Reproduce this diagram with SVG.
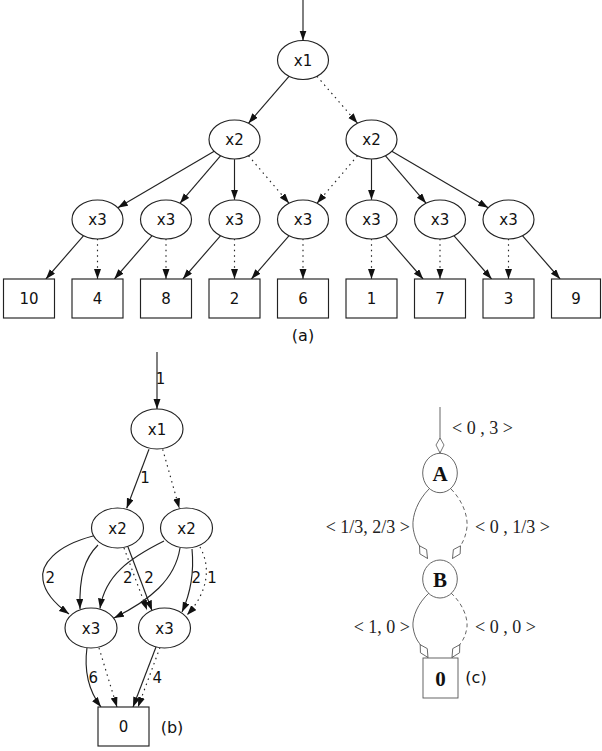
<svg xmlns="http://www.w3.org/2000/svg" width="602" height="751" viewBox="0 0 602 751">
<defs>
<style>
.n{fill:#fff;stroke:#222;stroke-width:1.15}
.e{fill:none;stroke:#222;stroke-width:1.15}
.d{stroke-dasharray:1.5,4}
.ce{fill:none;stroke:#555;stroke-width:0.9}
.cd{stroke-dasharray:4,3}
.cn{fill:#fff;stroke:#555;stroke-width:0.9}
.t{font-family:"DejaVu Sans",sans-serif;font-size:15px;text-anchor:middle;fill:#111}
.s{font-family:"Liberation Serif",serif;font-size:18px;fill:#222}
.b{font-family:"Liberation Serif",serif;font-weight:bold;font-size:21px;text-anchor:middle;fill:#111}
</style>
<marker id="ah" markerUnits="userSpaceOnUse" markerWidth="11" markerHeight="8" refX="10" refY="3.5" orient="auto"><path d="M0,0 L10,3.5 L0,7 z" fill="#111"/></marker>
<marker id="dm" markerUnits="userSpaceOnUse" markerWidth="18" markerHeight="10" refX="16" refY="5" orient="auto"><path d="M1,5 L8,1 L16,5 L8,9 z" fill="#fff" stroke="#555" stroke-width="0.8"/></marker>
</defs>
<rect width="602" height="751" fill="#fff"/>

<g id="connectors">
<g class="e" marker-end="url(#ah)">
<path d="M303,0 L303,40.5"/>
<path d="M289,76.3 L248.5,123.2"/>
<path class="d" d="M317,76.3 L357.5,123.2"/>
<path d="M214.2,151.3 L117.8,207.7"/>
<path d="M220.5,155.8 L180,203.2"/>
<path d="M234.5,159.2 L234.5,199.8"/>
<path class="d" d="M248.5,155.8 L289,203.2"/>
<path class="d" d="M357.5,155.8 L317,203.2"/>
<path d="M371.5,159.2 L371.5,199.8"/>
<path d="M385.5,155.8 L426,203.2"/>
<path d="M391.8,151.3 L488.2,207.7"/>
<path d="M83.4,235.8 L45.9,279"/>
<path class="d" d="M97.5,238.8 L97.5,279"/>
<path d="M151.9,235.8 L114.4,279"/>
<path class="d" d="M166,238.8 L166,279"/>
<path d="M220.4,235.8 L182.9,279"/>
<path class="d" d="M234.5,238.8 L234.5,279"/>
<path d="M288.9,235.8 L251.4,279"/>
<path class="d" d="M303,238.8 L303,279"/>
<path class="d" d="M371.5,238.8 L371.5,279"/>
<path d="M385.6,235.8 L423.1,279"/>
<path class="d" d="M440,238.8 L440,279"/>
<path d="M454.1,235.8 L491.6,279"/>
<path class="d" d="M508.5,238.8 L508.5,279"/>
<path d="M522.6,235.8 L560.1,279"/>

<path d="M157,352 L157,409"/>
<path d="M149,449.3 L126.7,508.3"/>
<path class="d" d="M162.7,449.3 L179.3,508.3"/>
<path d="M93,536 C55,546 40,565 43,580 C45,595 58,606 69,614"/>
<path d="M98,545 C85,558 79,575 80,609"/>
<path d="M128,547 L152,610.5"/>
<path class="d" d="M124,548 L147,610"/>
<path d="M164,541 C130,558 105,575 100,608.5"/>
<path d="M180,548 C175,580 150,600 114,618"/>
<path d="M192,549 C194,570 192,590 182,612"/>
<path class="d" d="M200,547 C210,565 210,590 187,615"/>
<path d="M87,647.5 C84,670 88,690 101,707"/>
<path class="d" d="M99,648 L117,707"/>
<path d="M156,647 L133,707"/>
<path class="d" d="M160,647.5 L138,707"/>
</g>
<g class="ce" marker-end="url(#dm)">
<path d="M440,407 L440,453"/>
<path d="M429,489 C418,500 412,515 413,527 C414,535 416,540 419,545 L427.5,558.5"/>
<path class="cd" d="M451,489 C462,500 468,515 467,527 C466,535 464,540 461,545 L452.5,558.5"/>
<path d="M429,593 C418,603 412,617 413,627 C414,634 416,639 419.5,643.5 L428,657.5"/>
<path class="cd" d="M451,593 C462,603 468,617 467,627 C466,634 464,639 460.5,643.5 L452,657.5"/>
</g>
<g class="t">
<text x="160.5" y="384">1</text>
<text x="145" y="483">1</text>
<text x="50.3" y="583.3">2</text>
<text x="127.7" y="583.3">2</text>
<text x="149" y="583.3">2</text>
<text x="196.3" y="583.3">2</text>
<text x="212" y="583.3">1</text>
<text x="93.3" y="682.5">6</text>
<text x="157.2" y="682.5">4</text>
</g>
<g class="s">
<text x="452" y="434">&lt; 0 , 3 &gt;</text>
<text x="410" y="533" text-anchor="end">&lt; 1/3, 2/3 &gt;</text>
<text x="475" y="533">&lt; 0 , 1/3 &gt;</text>
<text x="410" y="633" text-anchor="end">&lt; 1, 0 &gt;</text>
<text x="475" y="633">&lt; 0 , 0 &gt;</text>
</g>
</g>

<g id="a-x1"><ellipse class="n" cx="303" cy="60" rx="25.5" ry="19.5"/><text class="t" x="303" y="65.5">x1</text></g>
<g id="a-x2L"><ellipse class="n" cx="234.5" cy="139.5" rx="25.5" ry="19.5"/><text class="t" x="234.5" y="145">x2</text></g>
<g id="a-x2R"><ellipse class="n" cx="371.5" cy="139.5" rx="25.5" ry="19.5"/><text class="t" x="371.5" y="145">x2</text></g>
<g id="a-x3-1"><ellipse class="n" cx="97.5" cy="219.5" rx="25.5" ry="19.5"/><text class="t" x="97.5" y="225">x3</text></g>
<g id="a-x3-2"><ellipse class="n" cx="166" cy="219.5" rx="25.5" ry="19.5"/><text class="t" x="166" y="225">x3</text></g>
<g id="a-x3-3"><ellipse class="n" cx="234.5" cy="219.5" rx="25.5" ry="19.5"/><text class="t" x="234.5" y="225">x3</text></g>
<g id="a-x3-4"><ellipse class="n" cx="303" cy="219.5" rx="25.5" ry="19.5"/><text class="t" x="303" y="225">x3</text></g>
<g id="a-x3-5"><ellipse class="n" cx="371.5" cy="219.5" rx="25.5" ry="19.5"/><text class="t" x="371.5" y="225">x3</text></g>
<g id="a-x3-6"><ellipse class="n" cx="440" cy="219.5" rx="25.5" ry="19.5"/><text class="t" x="440" y="225">x3</text></g>
<g id="a-x3-7"><ellipse class="n" cx="508.5" cy="219.5" rx="25.5" ry="19.5"/><text class="t" x="508.5" y="225">x3</text></g>
<g id="a-t10"><rect class="n" x="3.5" y="279" width="51" height="39"/><text class="t" x="29" y="304">10</text></g>
<g id="a-t4"><rect class="n" x="72" y="279" width="51" height="39"/><text class="t" x="97.5" y="304">4</text></g>
<g id="a-t8"><rect class="n" x="140.5" y="279" width="51" height="39"/><text class="t" x="166" y="304">8</text></g>
<g id="a-t2"><rect class="n" x="209" y="279" width="51" height="39"/><text class="t" x="234.5" y="304">2</text></g>
<g id="a-t6"><rect class="n" x="277.5" y="279" width="51" height="39"/><text class="t" x="303" y="304">6</text></g>
<g id="a-t1"><rect class="n" x="346" y="279" width="51" height="39"/><text class="t" x="371.5" y="304">1</text></g>
<g id="a-t7"><rect class="n" x="414.5" y="279" width="51" height="39"/><text class="t" x="440" y="304">7</text></g>
<g id="a-t3"><rect class="n" x="483" y="279" width="51" height="39"/><text class="t" x="508.5" y="304">3</text></g>
<g id="a-t9"><rect class="n" x="551.5" y="279" width="49" height="39"/><text class="t" x="576" y="304">9</text></g>
<text class="t" x="303" y="340.5" style="font-size:16px">(a)</text>

<g id="b-x1"><ellipse class="n" cx="157" cy="429" rx="26" ry="20"/><text class="t" x="157" y="434.5">x1</text></g>
<g id="b-x2L"><ellipse class="n" cx="117.5" cy="528" rx="26" ry="20"/><text class="t" x="117.5" y="533.5">x2</text></g>
<g id="b-x2R"><ellipse class="n" cx="186.5" cy="528" rx="26" ry="20"/><text class="t" x="186.5" y="533.5">x2</text></g>
<g id="b-x3L"><ellipse class="n" cx="91" cy="628" rx="26" ry="20"/><text class="t" x="91" y="633.5">x3</text></g>
<g id="b-x3R"><ellipse class="n" cx="164.5" cy="628" rx="26" ry="20"/><text class="t" x="164.5" y="633.5">x3</text></g>
<g id="b-t0"><rect class="n" x="98" y="707" width="51" height="39"/><text class="t" x="123.5" y="732">0</text></g>
<text class="t" x="172" y="732.5" style="font-size:16px">(b)</text>

<g id="c-A"><ellipse class="cn" cx="440" cy="473" rx="17.3" ry="19.7"/><text class="b" x="440" y="480.5">A</text></g>
<g id="c-B"><ellipse class="cn" cx="440" cy="579" rx="17.3" ry="19"/><text class="b" x="440" y="586.5">B</text></g>
<g id="c-t0"><rect class="cn" x="423" y="658" width="35" height="40"/><text class="b" x="440.5" y="685.5">0</text></g>
<text class="t" x="476" y="682.5" style="font-size:16px">(c)</text>
</svg>
